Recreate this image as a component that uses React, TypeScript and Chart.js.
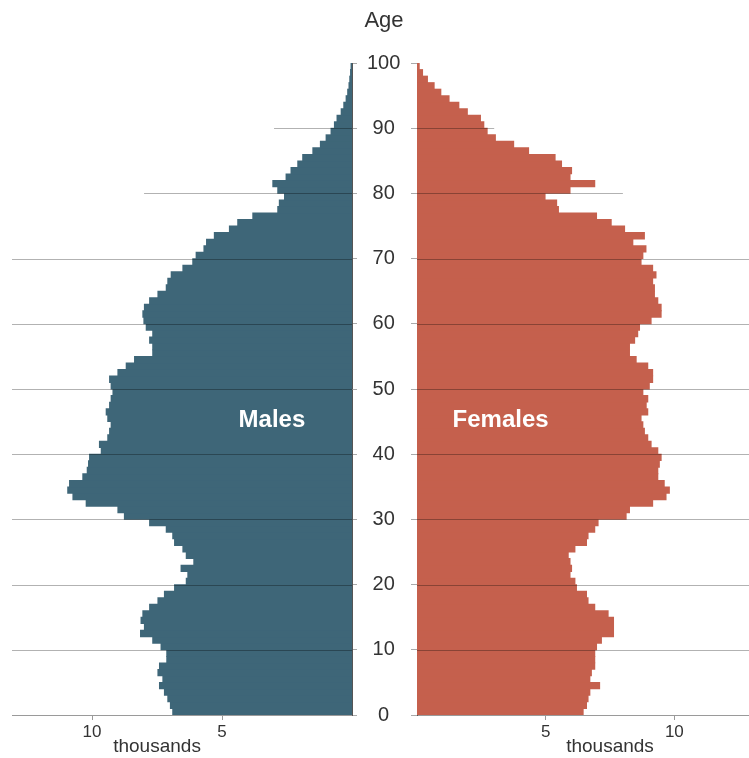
import React, { useEffect, useRef } from "react";
import { Chart, registerables } from "chart.js";

Chart.register(...registerables);

// Population (thousands) by single year of age, 0..99
const males = [
  6.9, 6.99, 7.09, 7.22, 7.41, 7.28, 7.47, 7.41, 7.13, 7.13,
  7.35, 7.67, 8.14, 7.99, 8.12, 8.05, 7.79, 7.47, 7.22, 6.83,
  6.38, 6.32, 6.58, 6.09, 6.38, 6.51, 6.83, 6.9, 7.15, 7.79,
  8.76, 9.01, 10.23, 10.74, 10.94, 10.87, 10.36, 10.19, 10.14, 10.1,
  9.65, 9.72, 9.4, 9.33, 9.27, 9.4, 9.46, 9.33, 9.27, 9.2,
  9.27, 9.33, 9.01, 8.69, 8.37, 7.67, 7.67, 7.79, 7.67, 7.92,
  8.01, 8.05, 7.99, 7.79, 7.47, 7.15, 7.09, 6.96, 6.51, 6.13,
  6.0, 5.7, 5.6, 5.3, 4.72, 4.4, 3.82, 2.86, 2.8, 2.6,
  2.86, 3.05, 2.54, 2.35, 2.09, 1.9, 1.51, 1.22, 1.0, 0.81,
  0.68, 0.58, 0.42, 0.32, 0.23, 0.17, 0.12, 0.09, 0.06, 0.04,
];

const females = [
  6.46, 6.59, 6.65, 6.72, 7.1, 6.72, 6.78, 6.91, 6.91, 6.91,
  6.98, 7.17, 7.64, 7.64, 7.64, 7.43, 6.91, 6.65, 6.59, 6.2,
  6.14, 5.95, 6.01, 5.95, 5.88, 6.14, 6.59, 6.65, 6.91, 7.04,
  8.13, 8.26, 9.16, 9.68, 9.81, 9.61, 9.36, 9.36, 9.42, 9.49,
  9.36, 9.1, 8.97, 8.84, 8.78, 8.71, 8.97, 8.91, 8.97, 8.78,
  9.03, 9.16, 9.16, 8.97, 8.52, 8.26, 8.26, 8.46, 8.58, 8.65,
  9.1, 9.49, 9.49, 9.36, 9.23, 9.23, 9.16, 9.29, 9.16, 8.71,
  8.78, 8.9, 8.39, 8.84, 8.07, 7.55, 6.98, 5.5, 5.43, 4.98,
  5.95, 6.91, 5.95, 6.01, 5.62, 5.37, 4.34, 3.76, 3.05, 2.73,
  2.6, 2.47, 1.96, 1.63, 1.25, 0.93, 0.67, 0.41, 0.22, 0.09,
];

const ageTicks = [0, 10, 20, 30, 40, 50, 60, 70, 80, 90, 100];
// how far (in thousands) each horizontal gridline reaches from the centre axis
const gridReach = [0, 99, 99, 99, 99, 99, 99, 99, 8, 3, 0];
const valueTicks = [5, 10];

const MALE_COLOR = "#3e6678";
const FEMALE_COLOR = "#c5604d";
const TEXT = "#333333";
const FONT = 'Arial, "Liberation Sans", sans-serif';

function makeGridPlugin(side: "left" | "right") {
  return {
    id: "overlay-" + side,
    afterDatasetsDraw(chart: any) {
      const { ctx, chartArea, scales } = chart;
      const xs = scales.x;
      const ys = scales.y;
      ctx.save();
      ctx.strokeStyle = "rgba(0,0,0,0.3)";
      ctx.lineWidth = 1;
      ageTicks.forEach((age, i) => {
        const reach = gridReach[i];
        if (!reach) return;
        const y = Math.round(ys.getPixelForValue(age)) + 0.5;
        const v = Math.min(reach, xs.max);
        const xp = xs.getPixelForValue(v);
        ctx.beginPath();
        if (side === "left") {
          ctx.moveTo(Math.max(xp, chartArea.left), y);
          ctx.lineTo(chartArea.right, y);
        } else {
          ctx.moveTo(chartArea.left, y);
          ctx.lineTo(Math.min(xp, chartArea.right), y);
        }
        ctx.stroke();
      });
      ctx.restore();
    },
    afterDraw(chart: any) {
      const { ctx, chartArea, scales } = chart;
      const xs = scales.x;
      const ys = scales.y;
      ctx.save();
      ctx.fillStyle = TEXT;
      ctx.textAlign = "center";
      ctx.textBaseline = "middle";
      ctx.font = `19px ${FONT}`;
      ctx.fillText("thousands", xs.getPixelForValue(7.5), 747);
      ctx.fillStyle = "#ffffff";
      ctx.font = `bold 24px ${FONT}`;
      if (side === "left") {
        ctx.fillText("Males", xs.getPixelForValue(3.08), ys.getPixelForValue(45.2));
        ctx.fillStyle = TEXT;
        ctx.font = `22px ${FONT}`;
        ctx.fillText("Age", (chartArea.right + chart.width) / 2, 21);
      } else {
        ctx.fillText("Females", xs.getPixelForValue(3.25), ys.getPixelForValue(45.2));
      }
      ctx.restore();
    },
  };
}

function buildConfig(side: "left" | "right"): any {
  const values = side === "left" ? males : females;
  const data = values.map((v, i) => ({ x: v, y: i + 0.5 }));
  const isLeft = side === "left";
  return {
    type: "bar",
    data: {
      datasets: [
        {
          label: isLeft ? "Males" : "Females",
          data,
          backgroundColor: isLeft ? MALE_COLOR : FEMALE_COLOR,
          borderWidth: 0,
          barPercentage: 1,
          categoryPercentage: 1,
          inflateAmount: 0.4,
        },
      ],
    },
    options: {
      indexAxis: "y",
      responsive: false,
      animation: false,
      events: [],
      layout: {
        padding: isLeft
          ? { left: 12, top: 63, right: 0, bottom: 0 }
          : { left: 0, top: 63, right: 0, bottom: 0 },
      },
      plugins: {
        legend: { display: false },
        tooltip: { enabled: false },
        title: { display: false },
      },
      scales: {
        x: {
          type: "linear",
          reverse: isLeft,
          min: 0,
          max: isLeft ? 13.08 : 12.9,
          position: "bottom",
          offset: false,
          z: 1,
          afterBuildTicks: (scale: any) => {
            scale.ticks = valueTicks.map((v) => ({ value: v }));
          },
          afterFit: (scale: any) => {
            scale.height = 43;
          },
          grid: {
            display: true,
            offset: false,
            drawOnChartArea: false,
            drawTicks: true,
            tickLength: 5,
            tickColor: "#999999",
          },
          border: { display: true, color: "#9a9a9a", width: 1 },
          ticks: {
            color: TEXT,
            font: { size: 17, family: FONT },
            padding: 2,
            maxRotation: 0,
            callback: (v: any) => String(v),
          },
        },
        y: {
          type: "linear",
          min: 0,
          max: 100,
          offset: false,
          position: isLeft ? "right" : "left",
          z: 1,
          afterBuildTicks: (scale: any) => {
            scale.ticks = ageTicks.map((v) => ({ value: v }));
          },
          afterFit: (scale: any) => {
            scale.width = isLeft ? 64 : 21;
          },
          grid: {
            display: true,
            offset: false,
            drawOnChartArea: false,
            drawTicks: true,
            tickLength: isLeft ? 5 : 6,
            tickColor: "#aaaaaa",
          },
          border: { display: true, color: "#555555", width: 1 },
          ticks: {
            display: isLeft,
            color: TEXT,
            crossAlign: "center",
            padding: 10,
            font: { size: 20, family: FONT },
            callback: (v: any) => String(v),
          },
        },
      },
    },
    plugins: [makeGridPlugin(side)],
  };
}

function Panel({ side, left, width }: { side: "left" | "right"; left: number; width: number }) {
  const ref = useRef<HTMLCanvasElement | null>(null);
  useEffect(() => {
    if (!ref.current) return;
    const chart = new Chart(ref.current, buildConfig(side));
    return () => chart.destroy();
  }, [side]);
  return (
    <canvas
      ref={ref}
      width={width}
      height={758}
      style={{ position: "absolute", left, top: 0, width, height: 758 }}
    />
  );
}

export default function App() {
  return (
    <div
      style={{
        position: "fixed",
        left: 0,
        top: 0,
        width: 749,
        height: 758,
        background: "#ffffff",
        overflow: "hidden",
      }}
    >
      <Panel side="left" left={0} width={416} />
      <Panel side="right" left={396} width={353} />
    </div>
  );
}
